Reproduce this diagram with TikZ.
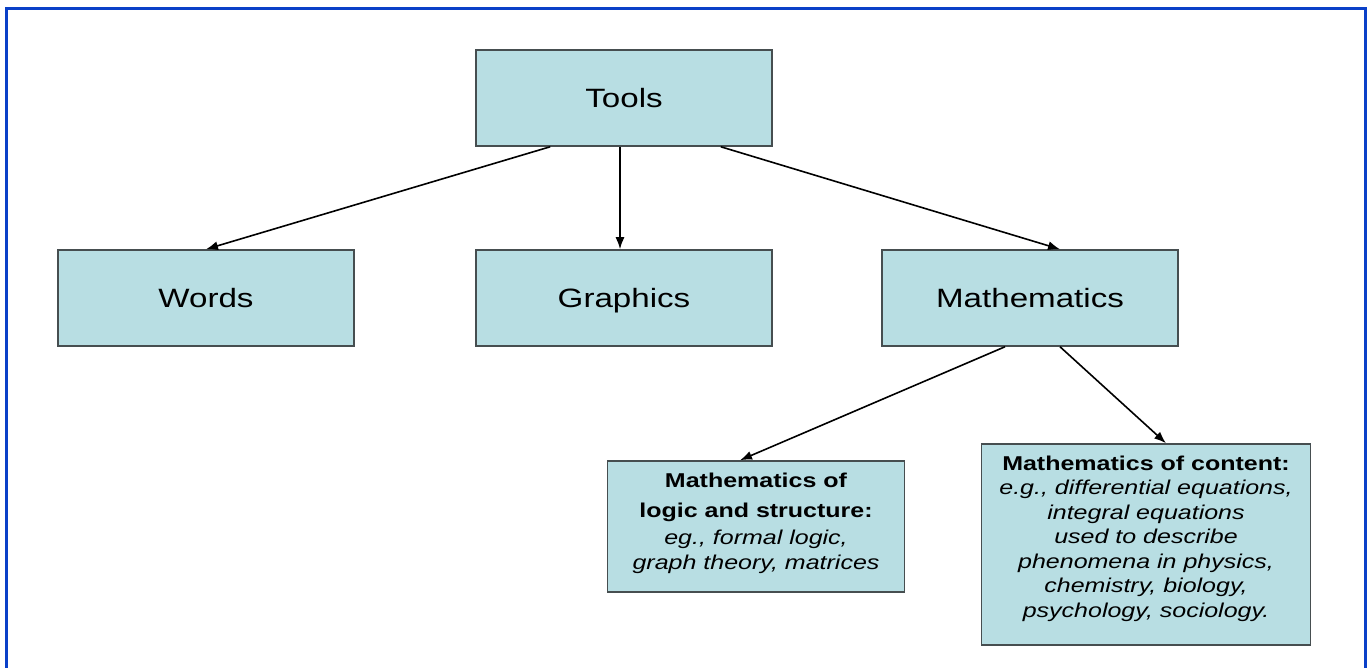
\documentclass[tikz,border=0pt]{standalone}
\usepackage{fontspec}
\setsansfont{Liberation Sans}[FakeStretch=1.25]
\usepackage{xcolor}
\usetikzlibrary{arrows.meta}
\definecolor{boxfill}{RGB}{184, 222, 227}
\definecolor{boxline}{RGB}{70, 78, 80}
\definecolor{frame}{RGB}{10, 64, 200}

\tikzset{
  tbox/.style={draw=boxline, fill=boxfill, line width=1.5pt, minimum width=296pt, minimum height=96pt,
    text height=19pt, text depth=0pt, font=\sffamily\fontsize{26.5}{30}\selectfont},
  sbox/.style={draw=boxline, fill=boxfill, line width=1.5pt, align=center, inner sep=0pt,
    font=\sffamily\fontsize{20}{24.5}\selectfont},
  arr/.style={-{Latex[length=12pt, width=9pt]}, line width=1.6pt, black}
}

\begin{document}
\begin{tikzpicture}[x=1pt, y=-1pt]
      \useasboundingbox (0, 0) rectangle (1367, 668);
      \draw[color=frame, line width=3pt] (6, 668)--(6, 8.5)--(1365, 8.5)--(1365, 668);
      \node[tbox] (tools) at (624, 98) {Tools};
      \node[tbox] (words) at (206, 298) {Words};
      \node[tbox] (graphics) at (624, 298) {Graphics};
      \node[tbox] (maths) at (1030, 298) {Mathematics};
      \node[sbox, minimum width=297pt, minimum height=131pt] (logic) at (756, 526.5)
        {\textbf{Mathematics of}\\[5.5pt] \textbf{logic and structure:}\\[2.5pt]
         \textit{eg., formal logic,}\\ \textit{graph theory, matrices}\\[-13.5pt]};
      \node[sbox, minimum width=329pt, minimum height=201pt] (content) at (1146, 544.5)
        {\textbf{Mathematics of content:}\\ \textit{e.g., differential equations,}\\
         \textit{integral equations}\\ \textit{used to describe}\\
         \textit{phenomena in physics,}\\ \textit{chemistry, biology,}\\
         \textit{psychology, sociology.}\\[-8.5pt]};
      \draw[arr] ([xshift=75pt]tools.south west) -- (words.north);
      \draw[arr] ([xshift=-4pt]tools.south) -- ([xshift=-4pt]graphics.north);
      \draw[arr] ([xshift=-52pt]tools.south east) -- ([xshift=30pt]maths.north);
      \draw[arr] ([xshift=-25pt]maths.south) -- ([xshift=-16pt]logic.north);
      \draw[arr] ([xshift=30pt]maths.south) -- ([xshift=20pt]content.north);
\end{tikzpicture}
\end{document}
